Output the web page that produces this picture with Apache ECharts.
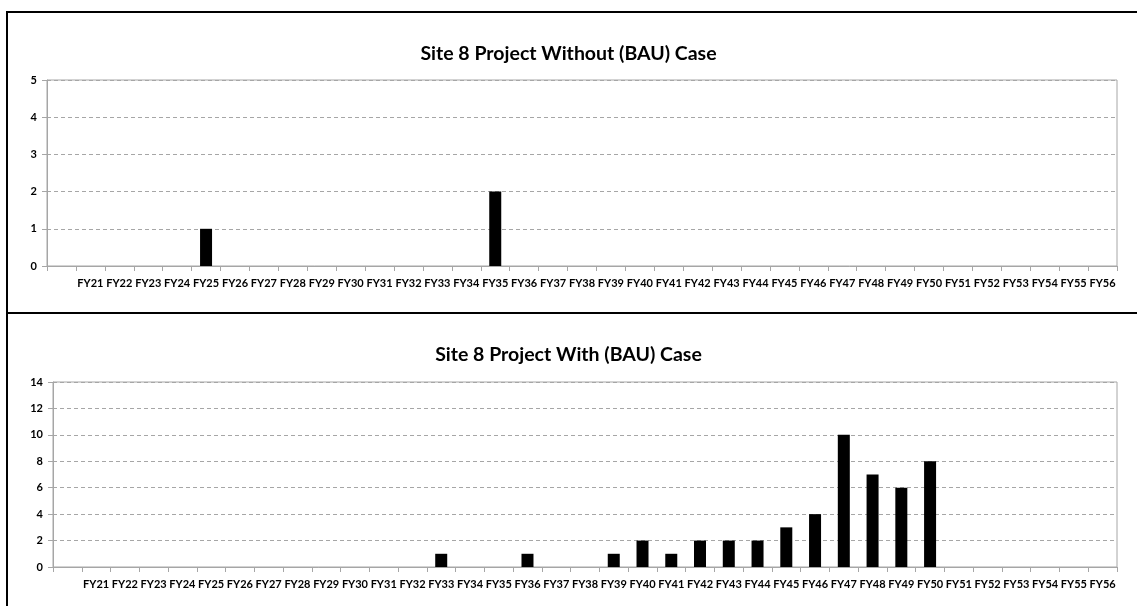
<!DOCTYPE html>
<html>
<head>
<meta charset="utf-8">
<script src="https://cdn.jsdelivr.net/npm/echarts@6/dist/echarts.min.js"></script>
<style>
html,body{margin:0;padding:0;background:#fff;}
#chart{width:1137px;height:606px;}
</style>
</head>
<body>
<div id="chart"></div>
<script>
var categories = ['', 'FY21','FY22','FY23','FY24','FY25','FY26','FY27','FY28','FY29','FY30',
  'FY31','FY32','FY33','FY34','FY35','FY36','FY37','FY38','FY39','FY40',
  'FY41','FY42','FY43','FY44','FY45','FY46','FY47','FY48','FY49','FY50',
  'FY51','FY52','FY53','FY54','FY55','FY56'];
var withoutValues = [null, 0,0,0,0,1,0,0,0,0,0, 0,0,0,0,2,0,0,0,0,0, 0,0,0,0,0,0,0,0,0,0, 0,0,0,0,0,0];
var withValues    = [null, 0,0,0,0,0,0,0,0,0,0, 0,0,1,0,0,1,0,0,1,2, 1,2,2,2,3,4,10,7,6,8, 0,0,0,0,0,0];
var titleWithout = 'Site 8 Project Without (BAU) Case';
var titleWith = 'Site 8 Project With (BAU) Case';
var yTicksWithout = {min: 0, max: 5, interval: 1};
var yTicksWith = {min: 0, max: 14, interval: 2};

var FONT = 'Lato, "Open Sans", sans-serif';
var axisGray = '#a6a6a6';

function xAxis(gi) {
  return {
    type: 'category', gridIndex: gi, data: categories, boundaryGap: true,
    axisLine: {show: true, lineStyle: {color: axisGray, width: 1}},
    axisTick: {show: true, alignWithLabel: false, interval: 0, length: 5, lineStyle: {color: axisGray}},
    axisLabel: {interval: 0, color: '#000', fontFamily: FONT, fontWeight: 'bold', fontSize: 11, margin: 12},
    splitLine: {show: false}
  };
}
function yAxis(gi, t) {
  return {
    type: 'value', gridIndex: gi, min: t.min, max: t.max, interval: t.interval,
    axisLine: {show: true, lineStyle: {color: axisGray, width: 1}},
    axisTick: {show: true, length: 5, lineStyle: {color: axisGray}},
    axisLabel: {color: '#000', fontFamily: FONT, fontWeight: 'bold', fontSize: 11, margin: 10},
    splitLine: {show: true, lineStyle: {color: '#a6a6a6', type: [4, 3], width: 1}}
  };
}

var chart = echarts.init(document.getElementById('chart'), null, {renderer: 'canvas'});
chart.setOption({
  animation: false,
  backgroundColor: '#fff',
  title: [
    {text: titleWithout, left: 'center', top: 39, textStyle: {fontFamily: FONT, fontWeight: 'bold', fontSize: 19.5, color: '#000'}},
    {text: titleWith, left: 'center', top: 340, textStyle: {fontFamily: FONT, fontWeight: 'bold', fontSize: 19.5, color: '#000'}}
  ],
  grid: [
    {left: 47, right: 20, top: 80, height: 186, show: true, borderColor: axisGray, borderWidth: 1, containLabel: false},
    {left: 53, right: 20, top: 382, height: 185, show: true, borderColor: axisGray, borderWidth: 1, containLabel: false}
  ],
  xAxis: [xAxis(0), xAxis(1)],
  yAxis: [yAxis(0, yTicksWithout), yAxis(1, yTicksWith)],
  series: [
    {type: 'bar', xAxisIndex: 0, yAxisIndex: 0, data: withoutValues, barWidth: 12,
     itemStyle: {color: '#000'}},
    {type: 'bar', xAxisIndex: 1, yAxisIndex: 1, data: withValues, barWidth: 12,
     itemStyle: {color: '#000'}}
  ],
  graphic: [
    {type: 'rect', shape: {x: 7, y: 12, width: 1140, height: 301}, style: {fill: 'none', stroke: '#000', lineWidth: 2}, silent: true},
    {type: 'rect', shape: {x: 7, y: 313, width: 1140, height: 310}, style: {fill: 'none', stroke: '#000', lineWidth: 2}, silent: true}
  ]
});
</script>
</body>
</html>
